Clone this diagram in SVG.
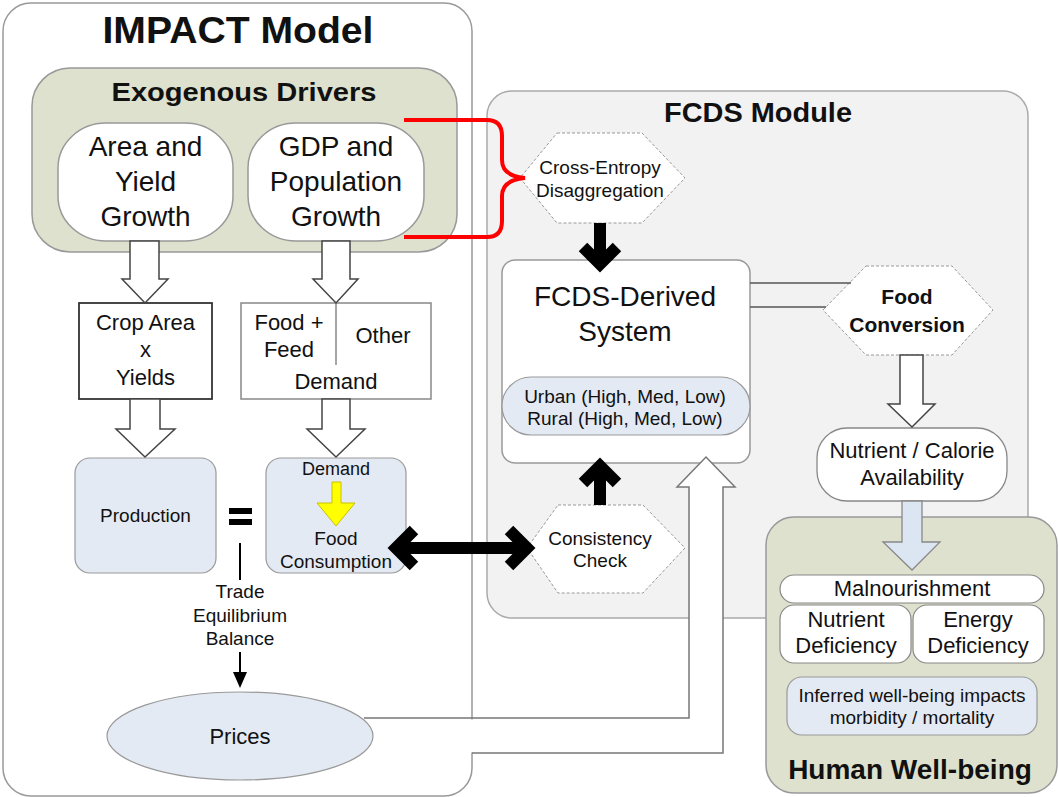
<svg xmlns="http://www.w3.org/2000/svg" width="1058" height="797" viewBox="0 0 1058 797">
<style>
.box{fill:#fff;stroke:#999;stroke-width:1.5}
.green{fill:#dde1cd;stroke:#999;stroke-width:1.5}
.blue{fill:#e4eaf4;stroke:#999;stroke-width:1.2}
.hex{fill:#fff;stroke:#999;stroke-width:1;stroke-dasharray:3 2}
.t{font-family:"Liberation Sans",Arial,sans-serif;text-anchor:middle;fill:#111}
.b{font-weight:bold}
.blk{fill:none;stroke:#000;stroke-width:12;stroke-linejoin:miter}
.hollow{fill:#fff;stroke:#444;stroke-width:1.5}
.thin{fill:none;stroke:#555;stroke-width:1.5}
</style>
<rect width="1058" height="797" fill="#fff"/>
<g id="impact-model">
<rect x="3" y="3" width="469" height="793" rx="28" class="box"/>
<text x="238" y="43" class="t b" font-size="37" textLength="271" lengthAdjust="spacingAndGlyphs">IMPACT Model</text>
</g>
<g id="exogenous-drivers">
<rect x="32" y="68" width="425" height="184" rx="38" class="green"/>
<text x="244" y="101" class="t b" font-size="25" textLength="265" lengthAdjust="spacingAndGlyphs">Exogenous Drivers</text>
</g>
<g id="area-yield">
<rect x="58" y="123" width="175" height="118" rx="48" ry="45" class="box"/>
<text class="t" font-size="28"><tspan x="145.5" y="156">Area and</tspan><tspan x="145.5" y="191">Yield</tspan><tspan x="145.5" y="226">Growth</tspan></text>
</g>
<g id="gdp-population">
<rect x="248" y="123" width="176" height="118" rx="48" ry="45" class="box"/>
<text class="t" font-size="28"><tspan x="336" y="156">GDP and</tspan><tspan x="336" y="191">Population</tspan><tspan x="336" y="226">Growth</tspan></text>
</g>
<g id="crop-area">
<rect x="79" y="303" width="133" height="96" fill="#fff" stroke="#333" stroke-width="1.8"/>
<text class="t" font-size="22"><tspan x="145.5" y="330">Crop Area</tspan><tspan x="145.5" y="357">x</tspan><tspan x="145.5" y="385">Yields</tspan></text>
</g>
<g id="demand">
<rect x="241" y="303" width="190" height="96" fill="#fff" stroke="#888" stroke-width="1.5"/>
<line x1="336" y1="303" x2="336" y2="365" stroke="#888" stroke-width="1.5"/>
<text class="t" font-size="22"><tspan x="289" y="330">Food +</tspan><tspan x="289" y="357">Feed</tspan></text>
<text x="383" y="343" class="t" font-size="22">Other</text>
<text x="336" y="389" class="t" font-size="22">Demand</text>
</g>
<g id="production">
<rect x="75" y="458" width="141" height="115" rx="15" class="blue"/>
<text x="145.5" y="522" class="t" font-size="19">Production</text>
</g>
<g id="equals">
<rect x="229" y="508" width="23" height="6" fill="#000"/>
<rect x="229" y="519" width="23" height="6" fill="#000"/>
</g>
<g id="food-consumption">
<rect x="266" y="458" width="140" height="115" rx="15" class="blue"/>
<text x="336" y="475" class="t" font-size="18">Demand</text>
<polygon points="332,482 341,482 341,503 355,503 336,526 317,503 332,503" fill="#ffff00" stroke="#c8c000" stroke-width="1"/>
<text class="t" font-size="19"><tspan x="336" y="545">Food</tspan><tspan x="336" y="568">Consumption</tspan></text>
</g>
<g id="trade-label">
<text class="t" font-size="19"><tspan x="240" y="598">Trade</tspan><tspan x="240" y="622">Equilibrium</tspan><tspan x="240" y="645">Balance</tspan></text>
</g>
<g id="prices">
<ellipse cx="240" cy="736" rx="133" ry="44" class="blue"/>
<text x="240" y="744" class="t" font-size="22">Prices</text>
</g>
<g id="fcds-module">
<rect x="487" y="91" width="541" height="527" rx="25" fill="#f2f2f2" stroke="#aaa" stroke-width="1.5"/>
<text x="758" y="122" class="t b" font-size="27" textLength="188" lengthAdjust="spacingAndGlyphs">FCDS Module</text>
</g>
<g id="cross-entropy">
<polygon points="557,133 642,133 685,178 642,223 557,223 520,178" class="hex"/>
<text class="t" font-size="19"><tspan x="600" y="174">Cross-Entropy</tspan><tspan x="600" y="197">Disaggregation</tspan></text>
</g>
<g id="fcds-derived">
<rect x="502" y="260" width="248" height="203" rx="13" class="box"/>
<text class="t" font-size="28"><tspan x="625" y="306">FCDS-Derived</tspan><tspan x="625" y="341">System</tspan></text>
<rect x="502" y="377" width="248" height="58" rx="29" class="blue"/>
<text class="t" font-size="19"><tspan x="625" y="403">Urban (High, Med, Low)</tspan><tspan x="625" y="425">Rural (High, Med, Low)</tspan></text>
</g>
<g id="consistency-check">
<polygon points="558,505 643,505 685,548 643,593 558,593 527,548" class="hex"/>
<text class="t" font-size="19"><tspan x="600" y="545">Consistency</tspan><tspan x="600" y="567">Check</tspan></text>
</g>
<g id="food-conversion">
<polygon points="866,266 952,266 993,310 952,355 866,355 823,310" class="hex"/>
<text class="t b" font-size="21"><tspan x="907" y="304">Food</tspan><tspan x="907" y="332">Conversion</tspan></text>
</g>
<g id="nutrient-calorie">
<rect x="817" y="428" width="190" height="73" rx="30" fill="#fff" stroke="#888" stroke-width="1.3"/>
<text class="t" font-size="22"><tspan x="912" y="458">Nutrient / Calorie</tspan><tspan x="912" y="485">Availability</tspan></text>
</g>
<g id="human-wellbeing">
<rect x="766" y="517" width="291" height="276" rx="28" class="green"/>
<text x="910" y="779" class="t b" font-size="28">Human Well-being</text>
</g>
<g id="malnourishment">
<rect x="780" y="575" width="264" height="28" rx="14" fill="#fff" stroke="#888" stroke-width="1.2"/>
<text x="912" y="596" class="t" font-size="22">Malnourishment</text>
</g>
<g id="nutrient-deficiency">
<rect x="780" y="605" width="131" height="58" rx="14" fill="#fff" stroke="#888" stroke-width="1.2"/>
<text class="t" font-size="22"><tspan x="846" y="627">Nutrient</tspan><tspan x="846" y="653">Deficiency</tspan></text>
</g>
<g id="energy-deficiency">
<rect x="913" y="605" width="131" height="58" rx="14" fill="#fff" stroke="#888" stroke-width="1.2"/>
<text class="t" font-size="22"><tspan x="978" y="627">Energy</tspan><tspan x="978" y="653">Deficiency</tspan></text>
</g>
<g id="wellbeing-impacts">
<rect x="787" y="677" width="250" height="58" rx="15" class="blue"/>
<text class="t" font-size="19"><tspan x="912" y="702">Inferred well-being impacts</tspan><tspan x="912" y="724">morbidity / mortality</tspan></text>
</g>
<g id="connectors">
<polygon points="130,241 130,279 122,279 145,303 168,279 159,279 159,241" class="hollow"/>
<polygon points="322,241 322,279 313,279 336,303 358,279 350,279 350,241" class="hollow"/>
<polygon points="130,399 130,429 116,429 145,457 175,429 160,429 160,399" class="hollow"/>
<polygon points="322,399 322,429 307,429 336,457 365,429 350,429 350,399" class="hollow"/>
<polygon points="900,355 900,404 888,404 912,427 935,404 923,404 923,355" class="hollow"/>
<polygon points="902,501 902,542 883,542 912,570 940,542 922,542 922,501" fill="#dce6f2" stroke="#888" stroke-width="1.3"/>
<line x1="750" y1="283" x2="851" y2="283" class="thin"/>
<line x1="750" y1="307" x2="826" y2="307" class="thin"/>
<path d="M404,120 H487 Q502,120 502,136 V160 Q502,176 525,178 Q502,180 502,196 V221 Q502,237 487,237 H404" fill="none" stroke="#f00" stroke-width="4"/>
<line x1="600" y1="223" x2="600" y2="262" class="blk"/>
<polyline points="583,247 600,264 617,247" class="blk"/>
<line x1="600" y1="505" x2="600" y2="468" class="blk"/>
<polyline points="583,483 600,466 617,483" class="blk"/>
<line x1="398" y1="548" x2="525" y2="548" class="blk"/>
<polyline points="414,530 396,548 414,566" class="blk"/>
<polyline points="509,530 527,548 509,566" class="blk"/>
<line x1="240" y1="543" x2="240" y2="580" stroke="#000" stroke-width="2"/>
<line x1="240" y1="652" x2="240" y2="675" stroke="#000" stroke-width="2"/>
<polygon points="233,672 247,672 240,688" fill="#000"/>
<polygon points="470,719.5 689,719.5 689,487 677,487 706,457 735,487 723,487 723,752.5 470,752.5" fill="#fff"/>
<polyline points="364,718 689,718 689,487 677,487 706,457 735,487 723,487 723,753 472,753" fill="none" stroke="#777" stroke-width="1.5"/>
</g>
</svg>
